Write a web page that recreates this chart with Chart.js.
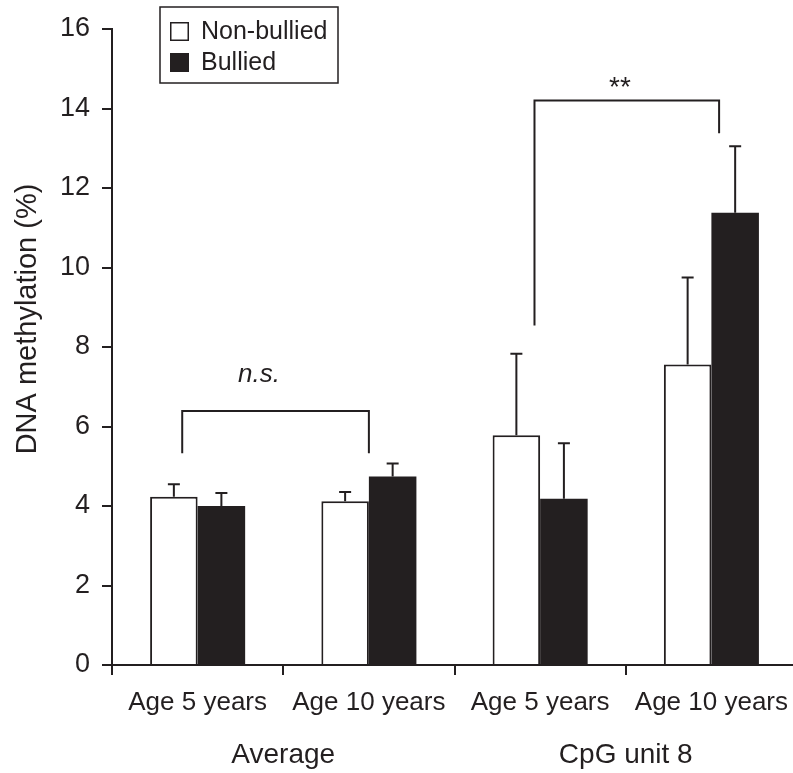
<!DOCTYPE html>
<html><head><meta charset="utf-8">
<script src="https://cdn.jsdelivr.net/npm/chart.js@4"></script>
<style>html,body{margin:0;padding:0;background:#fff;overflow:hidden}#wrap{width:793px;height:773px;overflow:hidden}</style>
</head><body><div id="wrap"><canvas id="c" width="800" height="773"></canvas></div>
<script>
// ---- data ----
const categories = ['Age 5 years', 'Age 10 years', 'Age 5 years', 'Age 10 years'];
const groups = ['Average', 'CpG unit 8'];
const seriesNames = ['Non-bullied', 'Bullied'];
const nonBullied = [4.23, 4.12, 5.78, 7.56];
const nonBulliedErr = [0.32, 0.23, 2.05, 2.19];
const bullied = [4.00, 4.74, 4.18, 11.38];
const bulliedErr = [0.33, 0.33, 1.40, 1.67];
const yTicks = [0, 2, 4, 6, 8, 10, 12, 14, 16];
const yTitle = 'DNA methylation (%)';
// significance brackets: category positions (fractional) and y values
const bracketLabels = ['n.s.', '**'];
const bracketFrom = [-0.09, 1.967];
const bracketTo = [1.0, 3.045];
const bracketTop = [6.39, 14.2];
const bracketLeftEnd = [5.33, 8.54];
const bracketRightEnd = [5.33, 13.38];
const bracketLabelX = [0.358, 2.466];
const bracketLabelY = [7.12, 14.5];

const INK = '#231f20';
const FONT = "'Liberation Sans', Arial, sans-serif";
const errors = [nonBulliedErr, bulliedErr];

const errorBarPlugin = {
  id: 'errorBars',
  afterDatasetsDraw(chart) {
    const ctx = chart.ctx, y = chart.scales.y;
    ctx.save();
    ctx.strokeStyle = INK; ctx.lineWidth = 2;
    chart.data.datasets.forEach((ds, di) => {
      const meta = chart.getDatasetMeta(di);
      meta.data.forEach((el, i) => {
        const top = y.getPixelForValue(ds.data[i] + errors[di][i]);
        ctx.beginPath();
        ctx.moveTo(el.x, el.y); ctx.lineTo(el.x, top);
        ctx.moveTo(el.x - 6, top); ctx.lineTo(el.x + 6, top);
        ctx.stroke();
      });
    });
    ctx.restore();
  }
};

const annotPlugin = {
  id: 'annot',
  afterDraw(chart) {
    const ctx = chart.ctx, xs = chart.scales.x, ys = chart.scales.y, ca = chart.chartArea;
    const step = xs.getPixelForValue(1) - xs.getPixelForValue(0);
    const px = v => xs.getPixelForValue(0) + v * step;
    ctx.save();
    ctx.strokeStyle = INK; ctx.lineWidth = 2; ctx.fillStyle = INK;
    bracketLabels.forEach((lab, i) => {
      const x1 = px(bracketFrom[i]), x2 = px(bracketTo[i]);
      const yt = ys.getPixelForValue(bracketTop[i]);
      ctx.beginPath();
      ctx.moveTo(x1, ys.getPixelForValue(bracketLeftEnd[i]));
      ctx.lineTo(x1, yt); ctx.lineTo(x2, yt);
      ctx.lineTo(x2, ys.getPixelForValue(bracketRightEnd[i]));
      ctx.stroke();
      ctx.textAlign = 'center';
      if (lab === 'n.s.') {
        ctx.font = 'italic 26px ' + FONT; ctx.textBaseline = 'alphabetic';
      } else {
        ctx.font = '28px ' + FONT; ctx.textBaseline = 'middle';
      }
      ctx.fillText(lab, px(bracketLabelX[i]), ys.getPixelForValue(bracketLabelY[i]));
    });
    // group labels
    ctx.font = '28px ' + FONT; ctx.textAlign = 'center'; ctx.textBaseline = 'alphabetic';
    groups.forEach((g, gi) => {
      const x = (xs.getPixelForValue(2 * gi) + xs.getPixelForValue(2 * gi + 1)) / 2;
      ctx.fillText(g, x, ca.bottom + 98);
    });
    // y title
    ctx.save();
    ctx.translate(27.5, 319);
    ctx.rotate(-Math.PI / 2);
    ctx.font = '29px ' + FONT; ctx.textBaseline = 'middle';
    ctx.fillText(yTitle, 0, 0);
    ctx.restore();
    // legend
    const lx = ca.left + 48, ly = 7, lw = 178, lh = 76;
    ctx.lineWidth = 1.5; ctx.strokeStyle = INK;
    ctx.strokeRect(lx, ly, lw, lh);
    ctx.font = '25px ' + FONT; ctx.textAlign = 'left'; ctx.textBaseline = 'middle';
    seriesNames.forEach((n, i) => {
      const ry = ly + 15 + i * 31;
      if (i === 0) {
        ctx.fillStyle = '#fff'; ctx.fillRect(lx + 10, ry, 19, 19);
        ctx.lineWidth = 1.5; ctx.strokeRect(lx + 10.75, ry + 0.75, 17.5, 17.5);
      } else {
        ctx.fillStyle = INK; ctx.fillRect(lx + 10, ry, 19, 19);
      }
      ctx.fillStyle = INK;
      ctx.fillText(n, lx + 41, ry + 10);
    });
    ctx.restore();
  }
};

new Chart(document.getElementById('c'), {
  type: 'bar',
  data: {
    labels: categories,
    datasets: [
      { label: seriesNames[0], data: nonBullied, backgroundColor: '#ffffff', borderColor: INK, borderWidth: 2, borderSkipped: 'bottom' },
      { label: seriesNames[1], data: bullied, backgroundColor: INK, borderColor: INK, borderWidth: 0 }
    ]
  },
  options: {
    responsive: false, animation: false,
    layout: { padding: { top: 29, right: 0, left: 0, bottom: 0 } },
    datasets: { bar: { categoryPercentage: 0.555, barPercentage: 1.0 } },
    plugins: { legend: { display: false }, tooltip: { enabled: false } },
    scales: {
      x: {
        afterFit(s) { s.height = 108; },
        grid: { offset: true, drawOnChartArea: false, drawTicks: true, tickLength: 10, color: INK, lineWidth: 2 },
        border: { display: true, color: INK, width: 2 },
        ticks: { font: { size: 26, family: FONT }, color: INK, padding: 12, maxRotation: 0, autoSkip: false }
      },
      y: {
        min: yTicks[0], max: yTicks[yTicks.length - 1],
        afterFit(s) { s.width = 112; },
        afterBuildTicks(s) { s.ticks = yTicks.map(v => ({ value: v })); },
        grid: { drawOnChartArea: false, drawTicks: true, tickLength: 10, color: INK, lineWidth: 2 },
        border: { display: true, color: INK, width: 2 },
        ticks: { font: { size: 27, family: FONT }, color: INK, padding: 12 }
      }
    }
  },
  plugins: [errorBarPlugin, annotPlugin]
});
</script>
</body></html>
